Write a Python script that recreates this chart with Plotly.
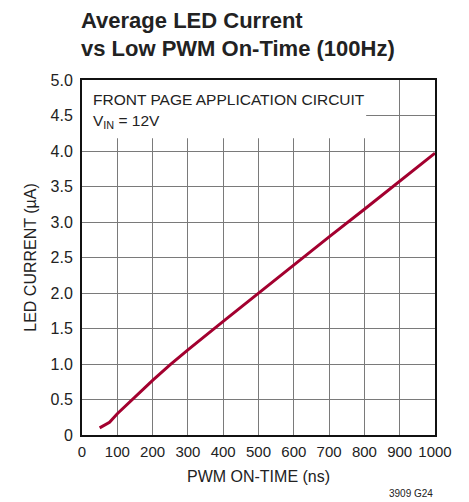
import plotly.graph_objects as go

pwm_on_time_ns = [50, 60, 78, 100, 150, 200, 250, 300, 400, 500, 600, 700, 800, 900, 1000]
led_current_ua = [0.10, 0.13, 0.18, 0.30, 0.54, 0.77, 0.99, 1.20, 1.60, 2.00, 2.39, 2.79, 3.18, 3.58, 3.97]

x_ticks = [0, 100, 200, 300, 400, 500, 600, 700, 800, 900, 1000]
y_ticks = [0, 0.5, 1.0, 1.5, 2.0, 2.5, 3.0, 3.5, 4.0, 4.5, 5.0]
y_tick_labels = ["0", "0.5", "1.0", "1.5", "2.0", "2.5", "3.0", "3.5", "4.0", "4.5", "5.0"]

FONT = "Liberation Sans, Arial, sans-serif"
TXT = "#222222"

fig = go.Figure()
fig.add_trace(go.Scatter(
    x=pwm_on_time_ns, y=led_current_ua, mode="lines",
    line=dict(color="#A3002F", width=3), showlegend=False,
))

fig.add_shape(type="rect", xref="x", yref="y", x0=0, x1=805, y0=4.18, y1=5.0,
              fillcolor="white", line=dict(width=0), layer="between")

# page body has an 8px default margin, so the figure is sized/offset to compensate
fig.update_layout(
    width=461, height=494,
    margin=dict(l=74, r=34, t=72, b=67),
    paper_bgcolor="white", plot_bgcolor="white",
    font=dict(family=FONT, size=16, color=TXT),
    xaxis=dict(range=[0, 1000], tickvals=x_ticks, showgrid=True, gridcolor="#7a7a7a", gridwidth=1.3,
               showline=True, linecolor="#111111", linewidth=2, mirror=True, ticks="",
               zeroline=False, tickfont=dict(size=15), tickangle=0, automargin=False,
               ticklabelstandoff=2,
               title=dict(text="PWM ON-TIME (ns)", font=dict(size=16), standoff=12)),
    yaxis=dict(range=[0, 5.0], tickvals=y_ticks, ticktext=y_tick_labels, showgrid=True,
               gridcolor="#7a7a7a", gridwidth=1.3,
               showline=True, linecolor="#111111", linewidth=2, mirror=True, ticks="",
               zeroline=False, tickfont=dict(size=16), automargin=False,
               ticklabelstandoff=4,
               title=dict(text="LED CURRENT (µA)", font=dict(size=16), standoff=10)),
    annotations=[
        dict(text="<b>Average LED Current</b>", xref="paper", yref="paper", x=0.0, y=1.0,
             xanchor="left", yanchor="bottom", yshift=45, xshift=-3, showarrow=False,
             font=dict(size=22, family=FONT, color=TXT)),
        dict(text="<b>vs Low PWM On-Time (100Hz)</b>", xref="paper", yref="paper", x=0.0, y=1.0,
             xanchor="left", yanchor="bottom", yshift=17, xshift=-3, showarrow=False,
             font=dict(size=22, family=FONT, color=TXT)),
        dict(text="FRONT PAGE APPLICATION CIRCUIT", xref="x", yref="y", x=25, y=4.73,
             xanchor="left", yanchor="middle", showarrow=False, font=dict(size=15.5)),
        dict(text="V<sub>IN</sub> = 12V", xref="x", yref="y", x=25, y=4.42,
             xanchor="left", yanchor="middle", showarrow=False, font=dict(size=15.5)),
        dict(text="3909 G24", xref="paper", yref="paper", x=1.0, y=0, xanchor="right",
             yanchor="top", yshift=-51, xshift=0, showarrow=False, font=dict(size=10)),
    ],
)

fig.write_html("out.html")
